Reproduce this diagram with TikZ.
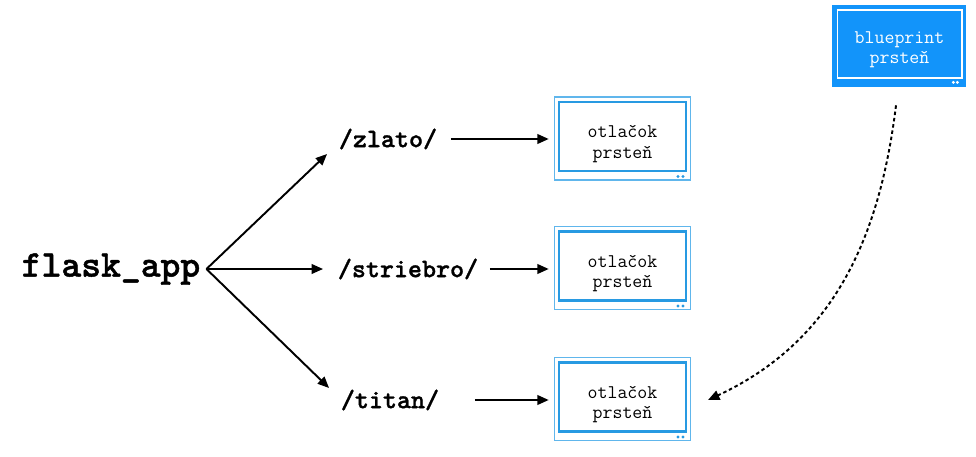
\documentclass[tikz,border=0pt]{standalone}
\usepackage{fontspec}
\newfontfamily\heavytt{lmmonolt10-bold.otf}[FakeBold=1.2]
\usetikzlibrary{arrows.meta,calc}
\definecolor{frameblue}{RGB}{96,182,236}
\definecolor{ringblue}{RGB}{40,154,226}
\definecolor{bpblue}{RGB}{18,148,250}
\begin{document}
\begin{tikzpicture}[
    x=0.02cm, y=-0.02cm,
    app/.style={font=\heavytt\fontsize{21.5}{25}\selectfont},
    route/.style={font=\heavytt\fontsize{15.2}{18}\selectfont, inner sep=2pt},
    frame/.style={rectangle, draw=frameblue, line width=0.6pt, minimum width=2.72cm, minimum height=1.66cm},
    ring/.style={rectangle, draw=ringblue, line width=1.6pt, minimum width=2.54cm, minimum height=1.38cm},
    ringtext/.style={font=\ttfamily\fontsize{11}{11.5}\selectfont, align=center},
    bpframe/.style={rectangle, fill=bpblue, minimum width=2.68cm, minimum height=1.64cm},
    bpring/.style={rectangle, draw=white, line width=0.6pt, minimum width=2.5cm, minimum height=1.36cm},
    arrow/.style={-{Triangle[length=6.5pt,width=5.5pt]}, line width=1.1pt, black},
    link/.style={-{Triangle[length=6.5pt,width=5.5pt]}, line width=1.1pt, black, dash pattern=on 2pt off 1.6pt}
]
\useasboundingbox (0,0) rectangle (976,456);

% App
\node[app] (app) at (111,269) {flask\_app};

% Routes
\node[route] (zlato) at (388,139) {/zlato/};
\node[route] (striebro) at (408,269) {/striebro/};
\node[route] (titan) at (390,400) {/titan/};

% Rings
\node[frame] (zlatoF) at (622.5,138.5) {};
\node[ring] (zlatoR) at (622.5,136.5) {};
\node[ringtext] (zlatoT) at (622.5,144) {otlačok\\prsteň};
\node[frame] (striebroF) at (622.5,268) {};
\node[ring] (striebroR) at (622.5,266) {};
\node[ringtext] (striebroT) at (622.5,273.5) {otlačok\\prsteň};
\node[frame] (titanF) at (622.5,399) {};
\node[ring] (titanR) at (622.5,397) {};
\node[ringtext] (titanT) at (622.5,404.5) {otlačok\\prsteň};

% Blueprint
\node[bpframe] (bpF) at (899,46) {};
\node[bpring] (bpR) at (899.5,44) {};
\node[ringtext, text=white] (bp) at (899.5,50) {blueprint\\prsteň};

% Corner dots
\fill[ringblue] ($(zlatoF.south east)+(-13,-4)$) circle (0.9pt) ($(zlatoF.south east)+(-8,-4)$) circle (0.9pt);
\fill[ringblue] ($(striebroF.south east)+(-13,-4)$) circle (0.9pt) ($(striebroF.south east)+(-8,-4)$) circle (0.9pt);
\fill[ringblue] ($(titanF.south east)+(-13,-4)$) circle (0.9pt) ($(titanF.south east)+(-8,-4)$) circle (0.9pt);
\fill[white] ($(bpF.south east)+(-13,-5)$) circle (0.9pt) ($(bpF.south east)+(-9,-5)$) circle (0.9pt);

% Arrows
\draw[arrow] (app.east) -- ($(zlato.west)+(-8,15)$);
\draw[arrow] (app.east) -- ($(striebro.west)+(-11,0)$);
\draw[arrow] (app.east) -- ($(titan.west)+(-8,-12)$);
\draw[arrow, shorten >=3pt] ($(zlato.east)+(10,0)$) -- (zlato.east -| zlatoF.west);
\draw[arrow, shorten >=3pt] ($(striebro.east)+(8,0)$) -- (striebro.east -| striebroF.west);
\draw[arrow, shorten >=3pt] ($(titan.east)+(32,0)$) -- (titan.east -| titanF.west);

% Blueprint link
\draw[link] ($(bpF.south)+(-3,18)$) to[out=-97,in=25] ($(titanF.east)+(17,1)$);

\end{tikzpicture}
\end{document}
